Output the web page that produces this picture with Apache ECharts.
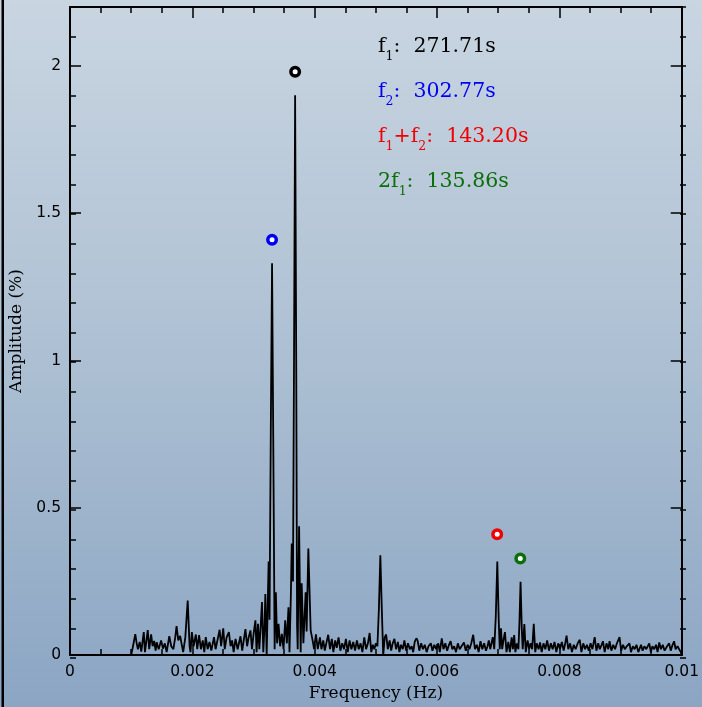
<!DOCTYPE html>
<html><head><meta charset="utf-8">
<script src="https://cdn.jsdelivr.net/npm/echarts/dist/echarts.min.js"></script>
<style>html,body{margin:0;padding:0;background:#fff;overflow:hidden;}#c{width:702px;height:707px;}</style>
</head><body><div id="c"></div>
<script>
// Periodogram vertices: frequency in micro-Hz, amplitude in %
const freqMicroHz = [
1000,1030,1067,1090,1110,1140,1165,1206,1225,1250,1271,1295,1326,1350,1375,1400,1417,1450,1489,1520,
1550,1580,1623,1655,1690,1720,1742,1770,1800,1813,1850,1885,1924,1955,1970,1992,2020,2057,2080,2110,
2140,2170,2195,2219,2250,2280,2310,2354,2380,2410,2446,2470,2505,2530,2560,2597,2625,2650,2675,2706,
2740,2787,2815,2840,2868,2895,2920,2950,2975,3000,3031,3050,3073,3095,3115,3138,3160,3180,3193,3215,
3230,3247,3262,3282,3303,3322,3345,3365,3385,3409,3435,3463,3490,3518,3545,3571,3588,3610,3625,3645,
3662,3680,3698,3712,3722,3745,3771,3787,3815,3852,3868,3896,3934,3966,3990,4020,4050,4086,4110,4140,
4165,4195,4221,4250,4280,4305,4335,4360,4390,4420,4450,4480,4510,4540,4570,4600,4630,4660,4690,4720,
4750,4780,4810,4840,4870,4898,4925,4950,4975,5000,5025,5050,5073,5098,5120,5145,5168,5195,5225,5250,
5275,5303,5330,5360,5385,5410,5440,5466,5495,5525,5555,5585,5610,5635,5661,5682,5710,5740,5770,5800,
5830,5860,5898,5925,5955,5985,6020,6045,6077,6105,6135,6165,6195,6222,6250,6280,6310,6340,6370,6400,
6440,6470,6500,6530,6560,6591,6620,6650,6680,6710,6740,6770,6800,6825,6846,6870,6911,6935,6960,6985,
7008,7025,7045,7065,7085,7110,7135,7165,7190,7220,7240,7261,7280,7305,7330,7347,7365,7385,7400,7427,
7450,7480,7505,7530,7555,7581,7605,7630,7660,7684,7710,7740,7770,7800,7830,7860,7890,7920,7950,7980,
8010,8040,8070,8095,8117,8145,8175,8205,8235,8265,8300,8333,8360,8390,8420,8450,8480,8510,8540,8577,
8605,8635,8660,8690,8712,8740,8770,8800,8820,8850,8880,8910,8940,8983,9010,9040,9070,9100,9145,9170,
9200,9230,9260,9290,9335,9360,9390,9420,9469,9495,9520,9550,9580,9605,9632,9660,9690,9720,9760,9794,
9820,9850,9875,9900,9930,9956,9985,10000
];
const amplitudePct = [
0.0,0.03,0.071,0.04,0.02,0.045,0.012,0.078,0.01,0.05,0.085,0.02,0.07,0.03,0.048,0.015,0.044,0.02,0.05,0.022,
0.04,0.01,0.064,0.03,0.02,0.06,0.098,0.05,0.065,0.07,0.01,0.06,0.185,0.03,0.01,0.078,0.03,0.07,0.02,0.068,
0.02,0.05,0.01,0.061,0.02,0.045,0.015,0.061,0.02,0.05,0.086,0.03,0.091,0.02,0.06,0.078,0.03,0.05,0.01,0.055,
0.02,0.064,0.015,0.05,0.088,0.03,0.06,0.084,0.02,0.07,0.118,0.01,0.106,0.02,0.09,0.18,0.01,0.1,0.207,0.0,
0.15,0.318,0.12,0.75,1.33,0.75,0.02,0.213,0.04,0.106,0.03,0.072,0.02,0.118,0.04,0.162,0.01,0.2,0.379,0.25,
1.0,1.9,1.0,0.1,0.02,0.437,0.01,0.244,0.04,0.213,0.08,0.362,0.084,0.05,0.02,0.07,0.02,0.06,0.02,0.05,
0.015,0.045,0.069,0.02,0.055,0.01,0.05,0.025,0.06,0.015,0.04,0.02,0.055,0.01,0.05,0.02,0.045,0.015,0.05,0.02,
0.04,0.01,0.06,0.02,0.04,0.075,0.01,0.035,0.02,0.04,0.03,0.16,0.339,0.15,0.0,0.06,0.07,0.02,0.05,0.015,
0.04,0.055,0.02,0.045,0.01,0.035,0.02,0.05,0.015,0.04,0.02,0.03,0.01,0.045,0.057,0.05,0.015,0.04,0.02,0.035,
0.01,0.03,0.04,0.015,0.035,0.02,0.04,0.01,0.057,0.02,0.04,0.015,0.035,0.047,0.02,0.03,0.01,0.04,0.02,0.03,
0.043,0.015,0.035,0.02,0.04,0.069,0.02,0.035,0.01,0.047,0.02,0.04,0.015,0.03,0.05,0.02,0.061,0.02,0.13,0.318,
0.12,0.02,0.091,0.02,0.05,0.078,0.01,0.045,0.01,0.06,0.02,0.068,0.01,0.04,0.02,0.11,0.249,0.09,0.02,0.105,
0.01,0.05,0.02,0.04,0.02,0.106,0.01,0.04,0.02,0.043,0.01,0.04,0.02,0.05,0.015,0.04,0.02,0.045,0.01,0.04,
0.02,0.045,0.015,0.04,0.066,0.02,0.04,0.01,0.035,0.02,0.04,0.052,0.01,0.04,0.02,0.035,0.015,0.04,0.02,0.061,
0.015,0.04,0.02,0.035,0.047,0.01,0.04,0.02,0.047,0.015,0.035,0.02,0.04,0.061,0.015,0.035,0.02,0.03,0.04,0.01,
0.03,0.02,0.035,0.01,0.035,0.015,0.03,0.02,0.04,0.01,0.03,0.02,0.035,0.01,0.043,0.02,0.035,0.015,0.03,0.04,
0.015,0.035,0.047,0.02,0.03,0.035,0.01,0.0
];
// Identified modes
const modeFreqMicroHz = [3680.4, 3302.8, 6983.0, 7360.8];
const modeMarkerAmp = [1.98, 1.41, 0.41, 0.328];
const modeColors = ['#000000', '#0000f0', '#f00000', '#0a6e0a'];
const modeLabelParts = [
  [['m','f'],['s','1'],['m',':  271.71s']],
  [['m','f'],['s','2'],['m',':  302.77s']],
  [['m','f'],['s','1'],['m','+f'],['s','2'],['m',':  143.20s']],
  [['m','2f'],['s','1'],['m',':  135.86s']]
];

const chart = echarts.init(document.getElementById('c'), null, {renderer:'canvas', width: 702, height: 707});
const lineData = freqMicroHz.map((f, i) => [f / 1e6, amplitudePct[i]]);
const markerData = modeFreqMicroHz.map((f, i) => ({
  value: [f / 1e6, modeMarkerAmp[i]],
  itemStyle: {borderColor: modeColors[i], color: '#ffffff', borderWidth: 3.5, opacity: 1}
}));

const G = {left: 70, right: 16, top: 7, bottom: 49};
const black = '#000';
function xAx(pos, labels) {
  return {
    type: 'value', gridIndex: 0, position: pos, min: 0, max: 0.01, interval: 0.002,
    axisLine: {show: true, onZero: false, lineStyle: {color: black, width: 2}},
    axisTick: {show: true, inside: true, length: 11, lineStyle: {color: black, width: 1.5}},
    minorTick: {show: true, splitNumber: 4, length: 6, lineStyle: {color: black, width: 1.5}},
    axisLabel: {show: labels, color: black, fontFamily: 'DejaVu Sans', fontSize: 15.5, margin: 9},
    splitLine: {show: false}, minorSplitLine: {show: false},
    name: labels ? 'Frequency (Hz)' : '', nameLocation: 'middle', nameGap: 27,
    nameTextStyle: {fontFamily: 'DejaVu Serif', fontSize: 17, color: black}
  };
}
function yAx(pos, labels) {
  return {
    type: 'value', gridIndex: 0, position: pos, min: 0, max: 2.2, interval: 0.5,
    axisLine: {show: true, onZero: false, lineStyle: {color: black, width: 2}},
    axisTick: {show: true, inside: true, length: 11, lineStyle: {color: black, width: 1.5}},
    axisLabel: {show: labels, color: black, fontFamily: 'DejaVu Sans', fontSize: 15.5, margin: 9, showMaxLabel: false},
    splitLine: {show: false},
    name: labels ? 'Amplitude (%)' : '', nameLocation: 'middle', nameGap: 43,
    nameTextStyle: {fontFamily: 'DejaVu Serif', fontSize: 17, color: black}
  };
}
function yMinor(pos) {
  return {
    type: 'value', gridIndex: 1, position: pos, min: 0, max: 2.2, interval: 0.1,
    axisLine: {show: false},
    axisTick: {show: true, inside: true, length: 6, lineStyle: {color: black, width: 1.5}},
    axisLabel: {show: false}, splitLine: {show: false}
  };
}

const texts = modeLabelParts.map((parts, i) => ({
  type: 'text', x: 378, y: 36 + 45 * i, z: 10,
  style: {
    text: parts.map(p => '{' + p[0] + '|' + p[1] + '}').join(''),
    align: 'left', verticalAlign: 'top',
    rich: {
      m: {fontFamily: 'DejaVu Serif', fontSize: 20.5, lineHeight: 20, verticalAlign: 'top', fill: modeColors[i], color: modeColors[i]},
      s: {fontFamily: 'DejaVu Serif', fontSize: 12.5, lineHeight: 27, verticalAlign: 'bottom', fill: modeColors[i], color: modeColors[i]}
    }
  }
}));

chart.setOption({
  animation: false,
  backgroundColor: 'transparent',
  graphic: [
    {type: 'rect', z: -100, silent: true, shape: {x: 0, y: 0, width: 702, height: 707},
     style: {fill: new echarts.graphic.LinearGradient(0, 0, 0, 1, [
       {offset: 0, color: '#c9d5e1'}, {offset: 0.5, color: '#adc0d3'}, {offset: 1, color: '#8ba5c3'}])}},
    {type: 'rect', z: 100, silent: true, shape: {x: 1.5, y: 0, width: 2.5, height: 707}, style: {fill: '#000'}}
  ].concat(texts),
  grid: [Object.assign({}, G), Object.assign({}, G)],
  xAxis: [xAx('bottom', true), xAx('top', false),
    {type: 'value', gridIndex: 1, min: 0, max: 0.01, show: false}],
  yAxis: [yAx('left', true), yAx('right', false), yMinor('left'), yMinor('right')],
  series: [
    {type: 'line', xAxisIndex: 0, yAxisIndex: 0, data: lineData, showSymbol: false, symbol: 'none',
     lineStyle: {color: '#000', width: 1.8}, clip: true, z: 3},
    {type: 'scatter', xAxisIndex: 0, yAxisIndex: 0, data: markerData, symbol: 'circle', symbolSize: 8.5, z: 4,
     itemStyle: {opacity: 1}}
  ]
});
</script></body></html>
